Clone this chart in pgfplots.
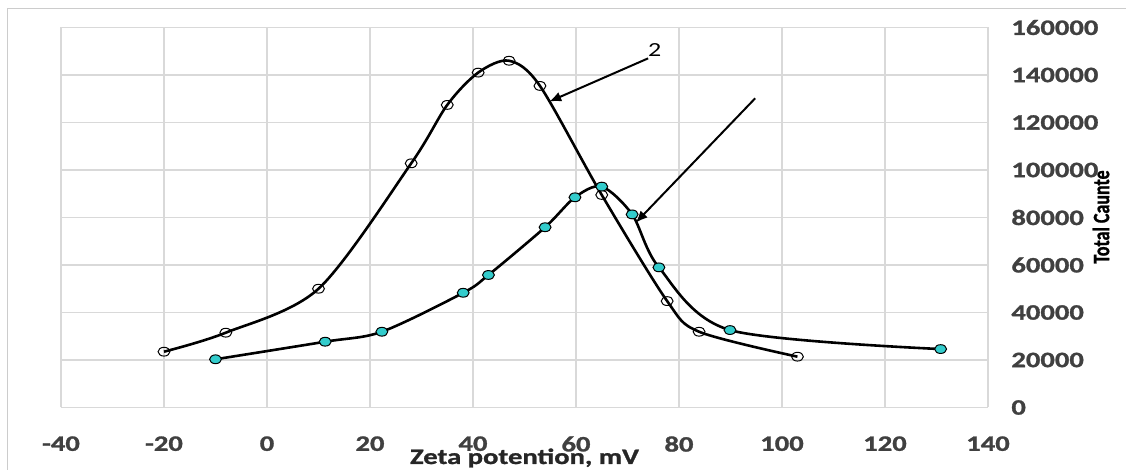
\documentclass[border=0pt]{standalone}
\usepackage{pgfplots}
\pgfplotsset{compat=1.18}
\usepackage{graphicx}
\usepackage{fontspec}
\usetikzlibrary{arrows.meta}
\setmainfont{Carlito}
\newfontfamily\widefont[FakeStretch=1.3]{Carlito}
\newfontfamily\widebold[FakeStretch=1.3, FakeBold=1.2]{Carlito Bold}
\newfontfamily\boldfont[FakeBold=1.2]{Carlito Bold}

\definecolor{gridgray}{HTML}{D9D9D9}
\definecolor{framegray}{HTML}{CCCCCC}
\definecolor{ticktext}{HTML}{404040}
\definecolor{turq}{HTML}{33CCCC}

% open circles (curve 2)
\pgfplotstableread{
x      y
-20    23500
-8     31500
10     50000
28     102800
35     127400
41     141000
47     146000
53     135400
65     89500
77.7   44800
83.9   31900
103    21400
}\seriesA

% filled circles
\pgfplotstableread{
x      y
-10    20300
11.3   27700
22.3   31900
38.1   48300
43     55800
54     75900
59.8   88500
65     93000
70.9   81300
76.1   59000
89.9   32600
130.8  24600
}\seriesB

\begin{document}
\begin{tikzpicture}
  % page = 1126 x 470 px, 1 px = 0.5pt, axis origin at px (61, 407.5)
  \useasboundingbox (-30.5pt,-31.25pt) rectangle (532.5pt,203.75pt);
  \draw[framegray, line width=0.6pt] (-26.85pt,-40pt) -- (-26.85pt,199.6pt) -- (540pt,199.6pt);

  \begin{axis}[
    scale only axis,
    width=463.5pt, height=190pt,
    xmin=-40, xmax=140, ymin=0, ymax=160000,
    xtick={-40,-20,0,20,40,60,80,100,120,140},
    xticklabels={-40,-20,0,20,40,60,80,100,120,140},
    ytick={0,20000,40000,60000,80000,100000,120000,140000,160000},
    yticklabels={0,20000,40000,60000,80000,100000,120000,140000,160000},
    grid=major,
    major grid style={gridgray, line width=0.6pt},
    axis line style={draw=none},
    major tick length=0pt,
    yticklabel pos=right,
    scaled ticks=false,
    tick label style={font=\widebold\fontsize{11}{13}\selectfont, text=ticktext},
    xticklabel style={anchor=north, inner sep=0pt, yshift=-14.25pt},
    yticklabel style={anchor=west, inner sep=0pt, xshift=11.5pt},
    xlabel={Zeta potention, mV},
    xlabel style={at={(axis description cs:0.5,0)}, anchor=center, yshift=-25.25pt,
      font=\widebold\fontsize{11}{13}\selectfont, text=black!85},
    clip=false,
  ]
    \addplot[black, line width=1.3pt, smooth, mark=o,
      mark options={black, line width=0.5pt, mark size=2.2pt, xscale=1.35}]
      table[x=x, y=y] {\seriesA};
    \addplot[black, line width=1.3pt, smooth, mark=*,
      mark options={fill=turq, draw=black, line width=0.5pt, mark size=2.2pt, xscale=1.35}]
      table[x=x, y=y] {\seriesB};

    \draw[black, line width=1pt, -{Latex[length=6pt, width=5pt]}]
      (axis cs:74,147000) -- (axis cs:54.8,128800);
    \node[font=\widefont\fontsize{10}{12}\selectfont] at (axis cs:75.3,150500) {2};
    \draw[black, line width=1pt, -{Latex[length=6pt, width=5pt]}]
      (axis cs:94.8,130200) -- (axis cs:71.6,77800);
  \end{axis}

  \node[rotate=90, font=\boldfont\fontsize{9}{11}\selectfont] at (520pt,95.25pt)
    {\scalebox{1}[1.3]{Total Caunte}};
\end{tikzpicture}
\end{document}
